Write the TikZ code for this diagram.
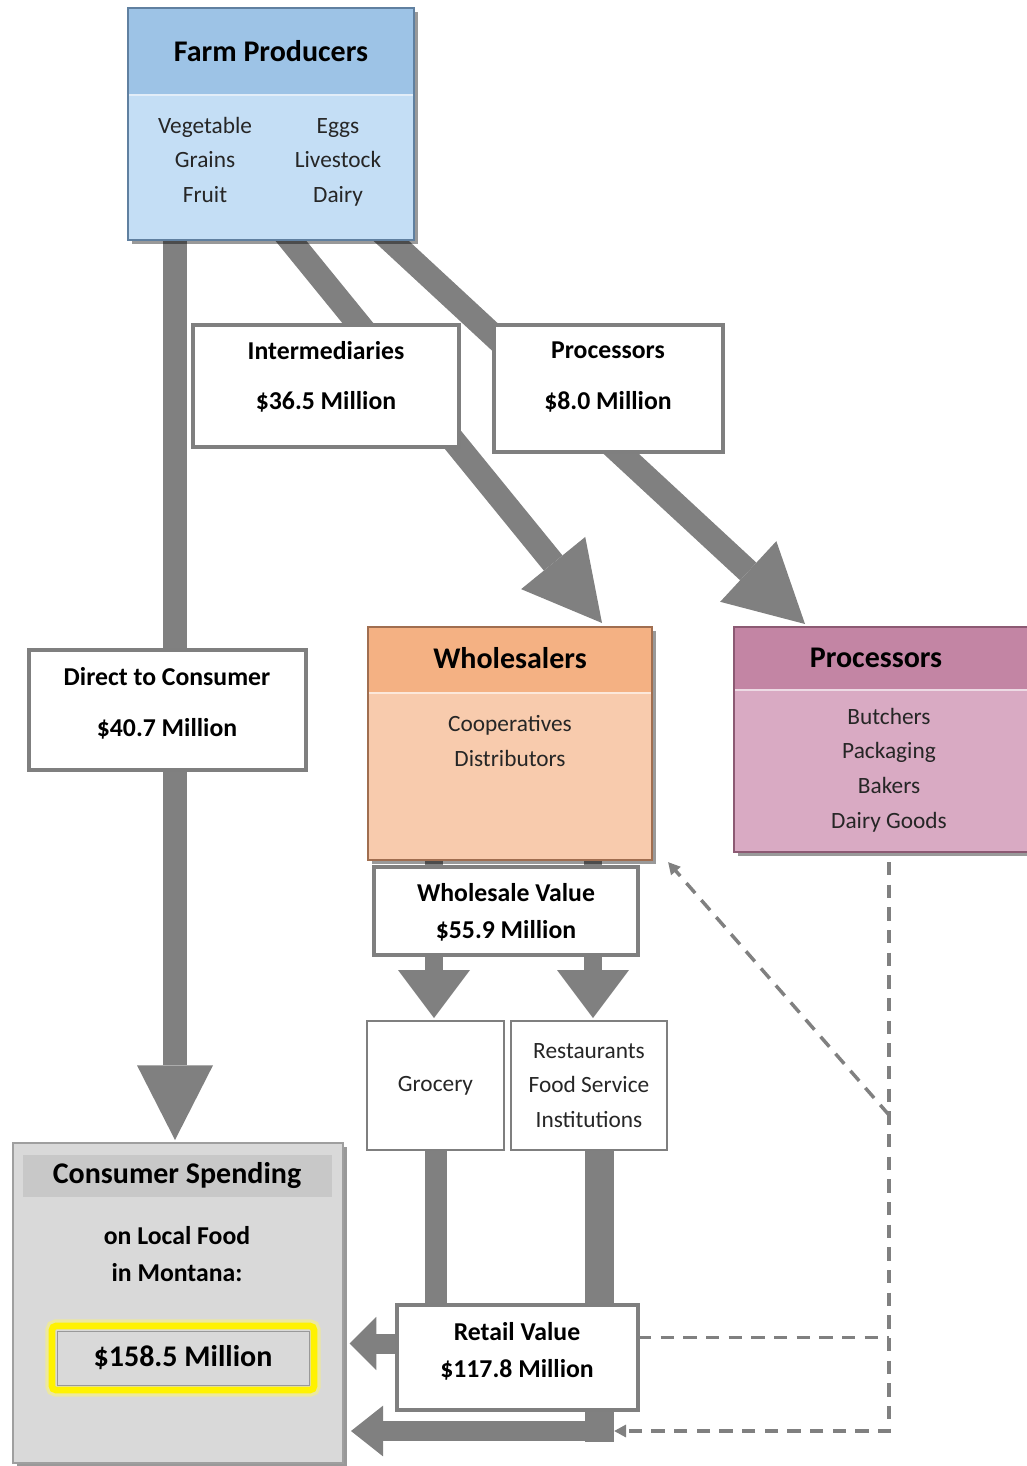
\documentclass[tikz,border=0pt]{standalone}
\usepackage{fontspec}
\setmainfont{Carlito}
\usetikzlibrary{arrows.meta}
\usetikzlibrary{calc}
\usetikzlibrary{fit}
\usetikzlibrary{backgrounds}
\usetikzlibrary{shadows}

\definecolor{flowgray}{RGB}{128,128,128}
\definecolor{boxgray}{RGB}{127,127,127}
\definecolor{farmhead}{RGB}{157,195,230}
\definecolor{farmbody}{RGB}{196,222,245}
\definecolor{farmedge}{RGB}{96,128,160}
\definecolor{wholehead}{RGB}{244,177,131}
\definecolor{wholebody}{RGB}{248,203,173}
\definecolor{wholeedge}{RGB}{160,110,80}
\definecolor{prochead}{RGB}{195,133,164}
\definecolor{procbody}{RGB}{217,170,195}
\definecolor{procedge}{RGB}{140,90,115}
\definecolor{conshead}{RGB}{200,200,200}
\definecolor{consbody}{RGB}{217,217,217}

\begin{document}
\begin{tikzpicture}[x=0.75pt,y=0.75pt,yscale=-1,xscale=1,
  panel/.style={inner sep=0pt, outer sep=0pt, line width=1.5pt, drop shadow={shadow xshift=3pt, shadow yshift=-3pt, fill=black, opacity=0.4}},
  band/.style={inner sep=0pt, outer sep=0pt},
  valbox/.style={inner sep=0pt, outer sep=0pt, draw=boxgray, line width=3pt, fill=white},
  catbox/.style={inner sep=0pt, outer sep=0pt, draw=boxgray, line width=2.2pt, fill=white},
  headtext/.style={font=\fontsize{22.5}{27}\selectfont\bfseries},
  valtext/.style={font=\fontsize{19.3}{38}\selectfont\bfseries, align=center},
  sumtext/.style={font=\fontsize{19.3}{27.75}\selectfont\bfseries, align=center},
  listtext/.style={font=\fontsize{17.5}{25.9}\selectfont, align=center, text=black!85},
  flow/.style={draw=flowgray, line width=18pt, -{Triangle[width=62pt,length=58pt,line width=0pt]}},
  bar/.style={draw=flowgray, line width=17pt},
  dashlink/.style={draw=flowgray, line width=2.6pt, dash pattern=on 10pt off 7pt},
]
\path[use as bounding box] (0,0) rectangle (1026,1466);

%Shape: Farm Producers
\node[panel, draw=farmedge, fill=farmbody, fit={(128,8) (414,240)}] (farm) {};
\node[band, fill=farmhead, fit={(128,8) (414,95)}] (farmhead) {};
\draw[white!70!farmhead, line width=1pt] (farmhead.south west) -- (farmhead.south east);
\draw[farmedge, line width=1.5pt] (farm.south west) rectangle (farm.north east);
% Text Node
\node[headtext] (farmtitle) at (271,51) {Farm Producers};
\node[listtext] (farmleft) at (205,161) {\strut Vegetable\\Grains\\Fruit\strut};
\node[listtext] (farmright) at (338,161) {\strut Eggs\\Livestock\\Dairy\strut};

%Shape: value boxes
\node[valbox, fit={(193,325) (459,447)}] (inter) {};
\node[valtext] (intertext) at (326,377) {Intermediaries\\\$36.5 Million};
\node[valbox, fit={(494,325) (723,452)}] (procval) {};
\node[valtext] (procvaltext) at (608,377) {Processors\\\$8.0 Million};
\node[valbox, fit={(29,650) (306,770)}] (direct) {};
\node[valtext] (directtext) at (167,703) {Direct to Consumer\\\$40.7 Million};

%Shape: Wholesalers
\node[panel, draw=wholeedge, fill=wholebody, fit={(368,627) (652,860)}] (whole) {};
\node[band, fill=wholehead, fit={(368,627) (652,693)}] (wholehead) {};
\draw[white!70!wholehead, line width=1pt] (wholehead.south west) -- (wholehead.south east);
\draw[wholeedge, line width=1.5pt] (whole.south west) rectangle (whole.north east);
% Text Node
\node[headtext] (wholetitle) at (510,658) {Wholesalers};
\node[listtext] (wholetext) at (510,741) {Cooperatives\\Distributors};

%Shape: Processors
\node[panel, draw=procedge, fill=procbody, fit={(734,627) (1032,852)}] (proc) {};
\node[band, fill=prochead, fit={(734,627) (1032,690)}] (prochead) {};
\draw[white!70!prochead, line width=1pt] (prochead.south west) -- (prochead.south east);
\draw[procedge, line width=1.5pt] (proc.south west) rectangle (proc.north east);
% Text Node
\node[headtext] (proctitle) at (876,658) {Processors};
\node[listtext] (proctext) at (889,770) {Butchers\\Packaging\\Bakers\\Dairy Goods};

%Shape: retail chain
\node[valbox, fit={(374,867) (638,955)}] (wval) {};
\node[sumtext] (wvaltext) at (506,912) {Wholesale Value\\\$55.9 Million};
\node[catbox, fit={(367,1021) (504,1150)}] (grocery) {};
\node[listtext] (grocerytext) at (grocery.center) {Grocery};
\node[catbox, fit={(511,1021) (667,1150)}] (rest) {};
\node[listtext] (resttext) at (rest.center) {Restaurants\\Food Service\\Institutions};
\node[valbox, fit={(397,1305) (638,1410)}] (retail) {};
\node[sumtext] (retailtext) at (517,1351) {Retail Value\\\$117.8 Million};

%Shape: Consumer Spending
\node[panel, draw=gray!75, fill=consbody, fit={(13,1143) (343,1463)}] (consumer) {};
\node[band, fill=conshead, fit={(23,1155) (332,1197)}] (conshead) {};
\node[headtext] (constitle) at (177,1176) {Consumer Spending};
\node[sumtext] (constext) at (177,1254) {on Local Food\\in Montana:};
\node[inner sep=0pt, outer sep=0pt, draw=yellow, line width=5pt, rounded corners=3pt, fill=consbody,
  preaction={draw=yellow!60, line width=10pt, opacity=0.5, rounded corners=6pt},
  fit={(52,1326) (314,1390)}] (total) {};
\draw[gray!80, line width=0.6pt] ($(total.north west)+(5,5)$) rectangle ($(total.south east)+(-5,-5)$);
\node[headtext] (totaltext) at (total.center) {\$158.5 Million};

%Straight Lines: flows
\coordinate (rbend) at ($(retail.south east)+(-24,21)$);
\coordinate (rleft) at ($(retail.west)+(10,-14)$);
\coordinate (rlink) at ($(retail.east)+(0,-20)$);
\coordinate (pdrop) at ($(proc.south west)+(155,10)$);
\begin{pgfonlayer}{background}
\draw[flow, -{Triangle[width=57pt,length=56pt,line width=0pt]}] ($(farm.south west)+(47,-10)$) -- ($(consumer.north west)+(162,-3)$);
\draw[flow] ($(farm.south west)+(150,-15)$) -- ($(whole.north west)+(234,-4)$);
\draw[flow] ($(farm.south west)+(246,-15)$) -- ($(proc.north west)+(71,-3)$);
\draw[flow, line width=13.5pt, -{Triangle[width=54pt,length=36pt,line width=0pt]}] ($(whole.south west)+(66,-5)$) -- ($(grocery.north west)+(67,-3)$);
\draw[flow, line width=13.5pt, -{Triangle[width=54pt,length=36pt,line width=0pt]}] ($(whole.south west)+(225,-5)$) -- ($(rest.north west)+(82,-3)$);
\draw[bar] ($(grocery.south west)+(69,-2)$) -- ($(retail.north west)+(39,2)$);
\draw[bar, line width=22pt] ($(rest.south west)+(88.5,-2)$) -- ($(rbend)+(-14.5,11)$);
\draw[flow, line width=15pt, -{Triangle[width=40pt,length=20pt,line width=0pt]}, shorten >=5pt] (rleft) -- (rleft -| consumer.east);
\draw[flow, line width=15pt, -{Triangle[width=38pt,length=24pt,line width=0pt]}, shorten >=6pt] (rbend) -- (rbend -| consumer.east);
\end{pgfonlayer}

%Straight Lines: dashed returns
\draw[dashlink, -{Triangle[width=9pt,length=9pt]}] (pdrop) |- (rbend);
\draw[dashlink] (rlink) -- (rlink -| pdrop);
\draw[dashlink, -{Triangle[width=9pt,length=9pt]}] ($(pdrop)+(0,253)$) -- ($(whole.south east)+(16,2)$);

\end{tikzpicture}
\end{document}
